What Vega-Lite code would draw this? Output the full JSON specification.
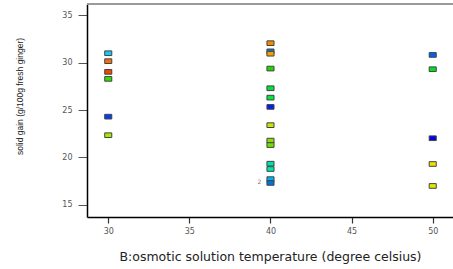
{
  "$schema": "https://vega.github.io/schema/vega-lite/v6.json",
  "autosize": "none",
  "width": 366,
  "height": 213,
  "padding": {"left": 87, "top": 4, "right": 0, "bottom": 52},
  "background": "white",
  "config": {"view": {"stroke": null}},
  "data": {"values": [
    {"temp": 30, "gain": 31.0, "run": "a1"},
    {"temp": 30, "gain": 30.16, "run": "a2"},
    {"temp": 30, "gain": 29.03, "run": "a3"},
    {"temp": 30, "gain": 28.29, "run": "a4"},
    {"temp": 30, "gain": 24.3, "run": "a5"},
    {"temp": 30, "gain": 22.34, "run": "a6"},
    {"temp": 40, "gain": 32.06, "run": "b1"},
    {"temp": 40, "gain": 31.2, "run": "b2"},
    {"temp": 40, "gain": 30.95, "run": "b3"},
    {"temp": 40, "gain": 29.38, "run": "b4"},
    {"temp": 40, "gain": 27.3, "run": "b5"},
    {"temp": 40, "gain": 26.31, "run": "b6"},
    {"temp": 40, "gain": 25.33, "run": "b7"},
    {"temp": 40, "gain": 23.4, "run": "b8"},
    {"temp": 40, "gain": 21.77, "run": "b9"},
    {"temp": 40, "gain": 21.3, "run": "b10"},
    {"temp": 40, "gain": 19.33, "run": "b11"},
    {"temp": 40, "gain": 18.77, "run": "b12"},
    {"temp": 40, "gain": 17.7, "run": "b13", "label": "2"},
    {"temp": 40, "gain": 17.3, "run": "b14"},
    {"temp": 50, "gain": 30.82, "run": "c1"},
    {"temp": 50, "gain": 29.31, "run": "c2"},
    {"temp": 50, "gain": 22.02, "run": "c3"},
    {"temp": 50, "gain": 19.3, "run": "c4"},
    {"temp": 50, "gain": 16.98, "run": "c5"}
  ]},
  "layer": [
    {
      "mark": {"type": "rule", "stroke": "#9a9a9a", "strokeWidth": 1.5},
      "encoding": {"y": {"datum": 36.2, "type": "quantitative", "scale": {"domain": [13.7, 36.2]}}}
    },
    {
      "mark": {"type": "point", "filled": true, "shape": "M-1,-0.66H1V0.66H-1Z", "size": 50, "stroke": "#444", "strokeWidth": 1, "opacity": 1},
      "encoding": {
        "x": {"field": "temp", "type": "quantitative",
          "scale": {"domain": [28.69, 51.25], "nice": false, "zero": false},
          "axis": {"values": [30, 35, 40, 45, 50], "title": "B:osmotic solution temperature (degree celsius)",
            "grid": false, "domainColor": "#000", "domainWidth": 1.5, "tickColor": "#333", "tickSize": 6, "tickWidth": 1.2,
            "labelFont": "DejaVu Sans", "labelFontSize": 8, "labelColor": "#555", "labelPadding": 4,
            "titleFont": "DejaVu Sans", "titleFontSize": 12.5, "titleFontWeight": "normal", "titleColor": "#222", "titlePadding": 15}},
        "y": {"field": "gain", "type": "quantitative",
          "scale": {"domain": [13.7, 36.2], "nice": false, "zero": false},
          "axis": {"values": [15, 20, 25, 30, 35], "title": "solid gain  (g/100g fresh ginger)",
            "grid": false, "domainColor": "#000", "domainWidth": 1.5, "tickColor": "#555", "tickSize": 9, "tickWidth": 1,
            "labelFont": "DejaVu Sans", "labelFontSize": 8, "labelColor": "#555", "labelPadding": 6,
            "titleFont": "Liberation Sans", "titleFontSize": 8.5, "titleFontWeight": "normal", "titleColor": "#222",
            "titleX": -63, "titleY": 92}},
        "color": {"field": "run", "type": "nominal", "legend": null,
          "scale": {
            "domain": ["a1","a2","a3","a4","a5","a6","b1","b2","b3","b4","b5","b6","b7","b8","b9","b10","b11","b12","b13","b14","c1","c2","c3","c4","c5"],
            "range": ["#18c8f0","#f07010","#f04800","#30e000","#0040f0","#a8e800","#f08c00","#1078c8","#f0a000","#20d800","#00e040","#00e840","#0020f0","#c8e400","#88e000","#70e000","#00e0b0","#00e8a8","#00b0f0","#0070e0","#0060f0","#00e020","#0000e0","#f0e000","#e0e800"]
          }}
      }
    },
    {
      "transform": [{"filter": "isValid(datum.label)"}],
      "mark": {"type": "text", "font": "DejaVu Sans", "fontSize": 6, "color": "#777", "dx": -11, "dy": 3},
      "encoding": {
        "x": {"field": "temp", "type": "quantitative"},
        "y": {"field": "gain", "type": "quantitative"},
        "text": {"field": "label"}
      }
    }
  ]
}
